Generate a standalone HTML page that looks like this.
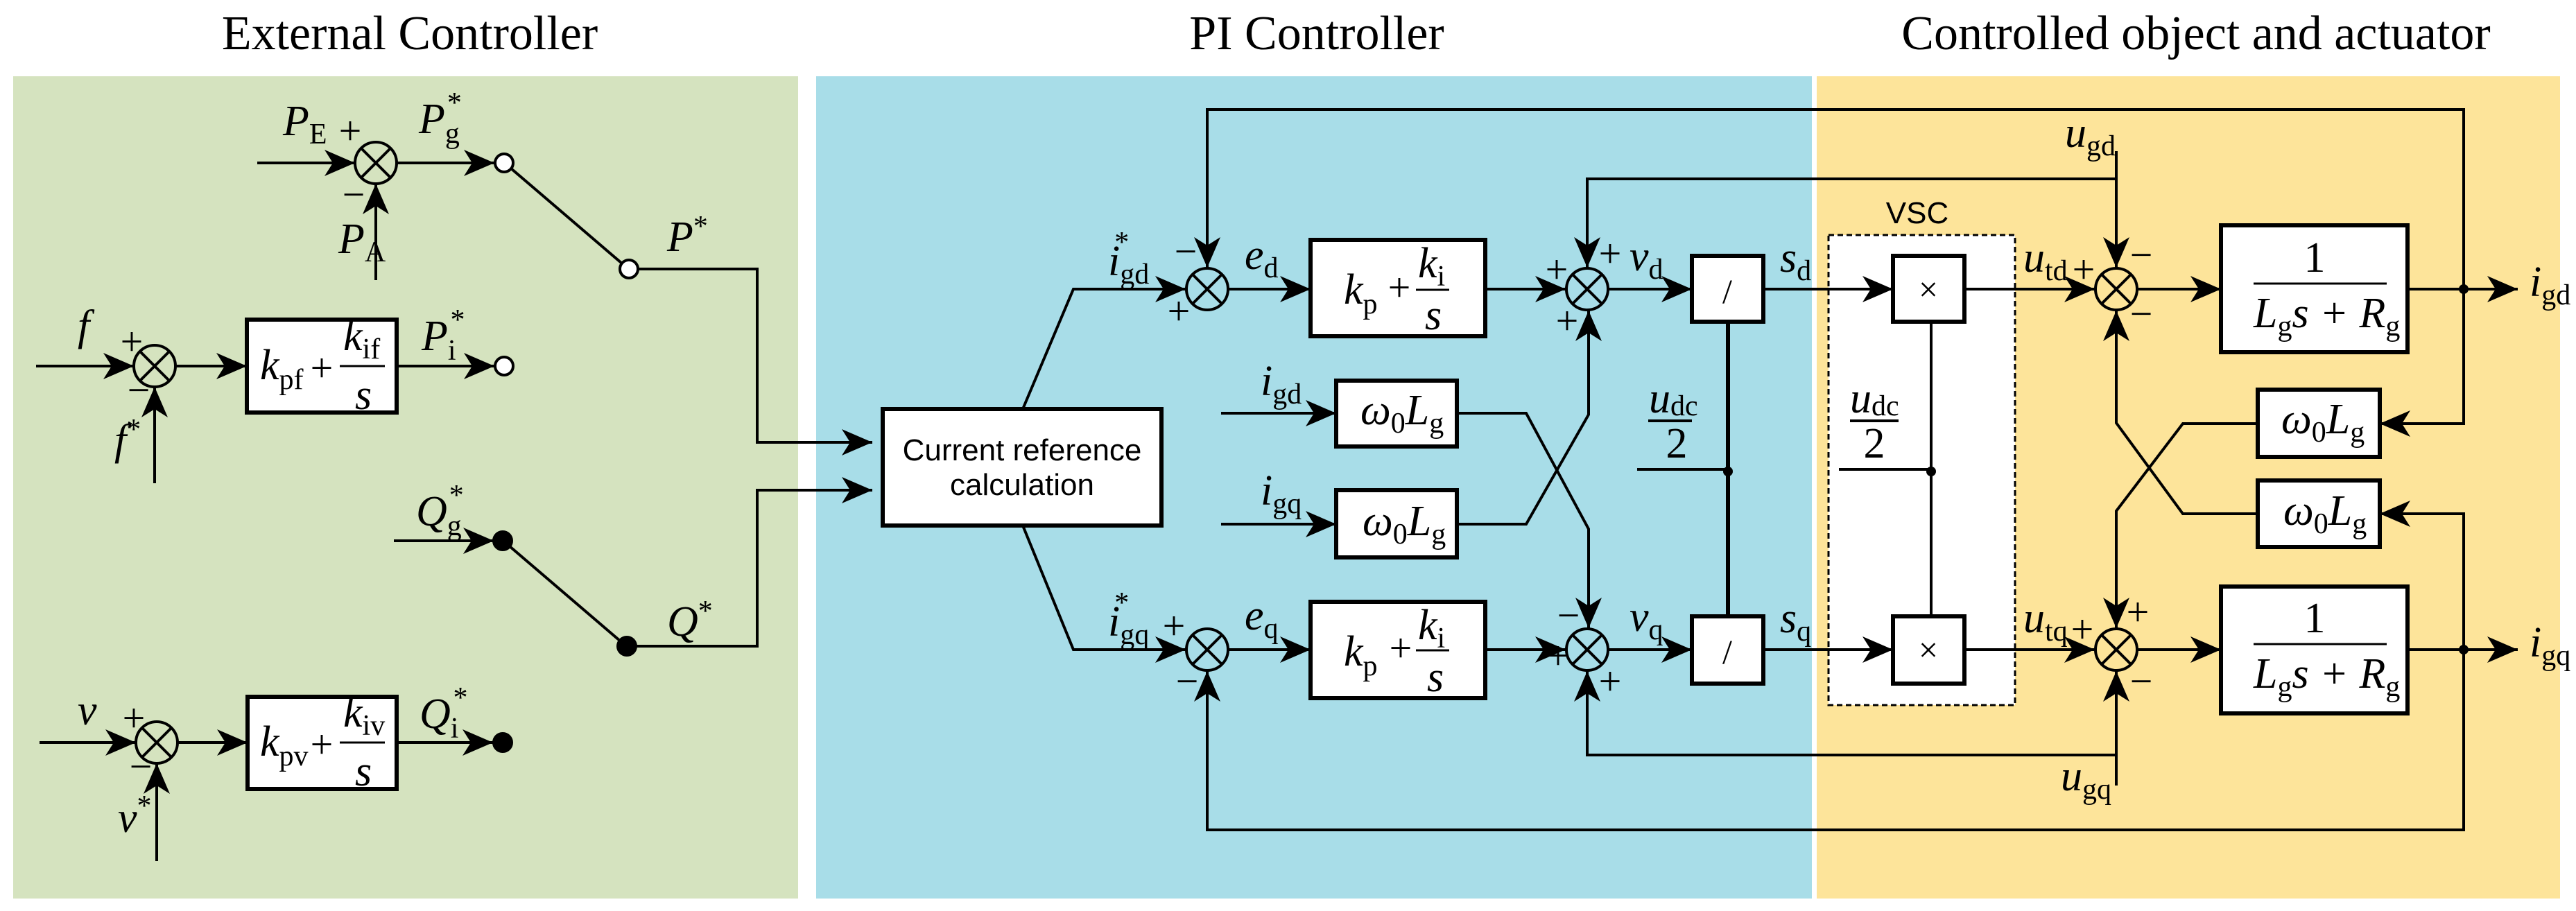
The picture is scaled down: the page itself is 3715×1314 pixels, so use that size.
<!DOCTYPE html>
<html><head><meta charset="utf-8"><style>
html,body{margin:0;padding:0;background:#fff}
svg{display:block}
.t{font-family:"Liberation Serif",serif;font-size:70px}
.m{font-family:"Liberation Serif",serif;font-style:italic;font-size:62px}
.s{font-style:normal;font-size:42px}
.g{font-family:"Liberation Serif",serif;font-size:58px}
.a{font-family:"Liberation Sans",sans-serif;font-size:44px}
</style></head><body>
<svg width="3715" height="1314" viewBox="0 0 3715 1314" xmlns="http://www.w3.org/2000/svg">
<defs>
<marker id="ar" markerUnits="userSpaceOnUse" markerWidth="48" markerHeight="42" viewBox="-46 -21 48 42" refX="0" refY="0" orient="auto">
<path d="M0,0 L-44,-19 L-32,0 L-44,19 Z" fill="#000"/>
</marker>
<g id="sum"><circle r="30" fill="none" stroke="#000" stroke-width="4"/><path d="M-21,-21L21,21M-21,21L21,-21" stroke="#000" stroke-width="4"/></g>
</defs>
<rect x="19" y="110" width="1132" height="1186" fill="#d5e3bf"/>
<rect x="1177" y="110" width="1436" height="1186" fill="#a8dde8"/>
<rect x="2620" y="110" width="1072" height="1186" fill="#fde49a"/>
<text class="t" x="591" y="71" text-anchor="middle">External Controller</text>
<text class="t" x="1899" y="71" text-anchor="middle">PI Controller</text>
<text class="t" x="3167" y="71" text-anchor="middle">Controlled object and actuator</text>

<g stroke="#000" stroke-width="4" fill="none">
<path d="M371,235H512" marker-end="url(#ar)"/>
<path d="M542,404V265" marker-end="url(#ar)"/>
<path d="M572,235H713" marker-end="url(#ar)"/>
<path d="M737,243L897,380"/>
<path d="M920,388H1092V638H1258" marker-end="url(#ar)"/>
<path d="M52,528H193" marker-end="url(#ar)"/>
<path d="M223,697V558" marker-end="url(#ar)"/>
<path d="M253,528H356" marker-end="url(#ar)"/>
<path d="M572,528H713" marker-end="url(#ar)"/>
<path d="M568,780H712" marker-end="url(#ar)"/>
<path d="M735,788L895,925"/>
<path d="M904,932H1092V707H1258" marker-end="url(#ar)"/>
<path d="M57,1071H196" marker-end="url(#ar)"/>
<path d="M226,1242V1101" marker-end="url(#ar)"/>
<path d="M256,1071H357" marker-end="url(#ar)"/>
<path d="M572,1071H711" marker-end="url(#ar)"/>
<path d="M1475,590L1548,417H1710" marker-end="url(#ar)"/>
<path d="M1475,758L1548,937H1710" marker-end="url(#ar)"/>
<path d="M3553,417V158H1741V386" marker-end="url(#ar)"/>
<path d="M3553,937V1197H1741V968" marker-end="url(#ar)"/>
<path d="M1772,417H1890" marker-end="url(#ar)"/>
<path d="M1772,937H1890" marker-end="url(#ar)"/>
<path d="M2142,417H2258" marker-end="url(#ar)"/>
<path d="M2142,937H2258" marker-end="url(#ar)"/>
<path d="M3052,258H2289V386" marker-end="url(#ar)"/>
<path d="M3052,1089H2289V968" marker-end="url(#ar)"/>
<path d="M1761,596H1927" marker-end="url(#ar)"/>
<path d="M1761,756H1927" marker-end="url(#ar)"/>
<path d="M2101,596H2201L2291,763V906" marker-end="url(#ar)"/>
<path d="M2101,756H2201L2291,598V448" marker-end="url(#ar)"/>
<path d="M2320,417H2440" marker-end="url(#ar)"/>
<path d="M2320,937H2440" marker-end="url(#ar)"/>
<path d="M2492,464V889" stroke-width="6"/>
<path d="M2361,677H2492"/>
<path d="M2377,607H2440"/>
<path d="M2543,417H2730" marker-end="url(#ar)"/>
<path d="M2543,937H2730" marker-end="url(#ar)"/>
<path d="M2833,417H3021" marker-end="url(#ar)"/>
<path d="M2833,937H3021" marker-end="url(#ar)"/>
<path d="M3052,218V386" marker-end="url(#ar)"/>
<path d="M3052,1133V968" marker-end="url(#ar)"/>
<path d="M3083,417H3203" marker-end="url(#ar)"/>
<path d="M3083,937H3203" marker-end="url(#ar)"/>
<path d="M3472,417H3631" marker-end="url(#ar)"/>
<path d="M3472,937H3631" marker-end="url(#ar)"/>
<path d="M3553,417V611H3432" marker-end="url(#ar)"/>
<path d="M3553,937V741H3432" marker-end="url(#ar)"/>
<path d="M3256,611H3148L3052,737V906" marker-end="url(#ar)"/>
<path d="M3256,741H3148L3052,610V448" marker-end="url(#ar)"/>
</g>
<rect x="2637" y="339" width="269" height="678" fill="#fff" stroke="#000" stroke-width="3" stroke-dasharray="8,5"/>
<g stroke="#000" stroke-width="4" fill="none">
<path d="M2785,464V889"/><path d="M2652,677H2785"/><path d="M2668,607H2738"/>
<path d="M2637,417H2730" marker-end="url(#ar)"/><path d="M2637,937H2730" marker-end="url(#ar)"/>
<path d="M2833,417H2906M2833,937H2906"/>
</g>
<g fill="#fff" stroke="#000" stroke-width="6">
<rect x="356" y="461" width="216" height="134"/>
<rect x="357" y="1005" width="215" height="133"/>
<rect x="1273" y="590" width="402" height="168"/>
<rect x="1890" y="346" width="252" height="139"/>
<rect x="1890" y="868" width="252" height="139"/>
<rect x="1927" y="549" width="174" height="95"/>
<rect x="1927" y="707" width="174" height="97"/>
<rect x="2440" y="369" width="103" height="95"/>
<rect x="2440" y="889" width="103" height="97"/>
<rect x="2730" y="369" width="103" height="95"/>
<rect x="2730" y="889" width="103" height="97"/>
<rect x="3203" y="325" width="269" height="183"/>
<rect x="3203" y="846" width="269" height="183"/>
<rect x="3256" y="562" width="176" height="97"/>
<rect x="3256" y="693" width="176" height="96"/>
</g>
<path d="M490,528H555M490,1071H555M2042,418H2090M2042,938H2090M3250,409H3442M3250,929H3442" stroke="#000" stroke-width="3"/>
<use href="#sum" x="542" y="235"/><use href="#sum" x="223" y="528"/><use href="#sum" x="226" y="1071"/>
<use href="#sum" x="1741" y="417"/><use href="#sum" x="1741" y="937"/>
<use href="#sum" x="2289" y="417"/><use href="#sum" x="2289" y="937"/>
<use href="#sum" x="3052" y="417"/><use href="#sum" x="3052" y="937"/>
<g stroke="#000" stroke-width="4">
<circle cx="727" cy="235" r="13" fill="#fff"/><circle cx="907" cy="388" r="13" fill="#fff"/><circle cx="727" cy="528" r="13" fill="#fff"/>
<circle cx="725" cy="780" r="13" fill="#000"/><circle cx="904" cy="932" r="13" fill="#000"/><circle cx="725" cy="1071" r="13" fill="#000"/>
</g>
<g fill="#000"><circle cx="2492" cy="680" r="7"/><circle cx="2785" cy="680" r="7"/><circle cx="3553" cy="417" r="7"/><circle cx="3553" cy="937" r="7"/></g>

<g class="m">
<text x="408" y="195">P<tspan class="s" dy="12">E</tspan></text>
<text x="488" y="365">P<tspan class="s" dy="12">A</tspan></text>
<text x="604" y="192">P<tspan class="s" dy="14">g</tspan><tspan class="s" dx="-18" dy="-44">*</tspan></text>
<text x="962" y="362">P<tspan class="s" dy="-22">*</tspan></text>
<text x="112" y="490">f</text>
<text x="165" y="655">f<tspan class="s" dy="-22">*</tspan></text>
<text x="608" y="505">P<tspan class="s" dy="14">i</tspan><tspan class="s" dx="-8" dy="-44">*</tspan></text>
<text x="600" y="758">Q<tspan class="s" dy="14">g</tspan><tspan class="s" dx="-18" dy="-44">*</tspan></text>
<text x="962" y="917">Q<tspan class="s" dy="-22">*</tspan></text>
<text x="112" y="1045">v</text>
<text x="170" y="1200">v<tspan class="s" dy="-24">*</tspan></text>
<text x="605" y="1050">Q<tspan class="s" dy="14">i</tspan><tspan class="s" dx="-8" dy="-44">*</tspan></text>
<text x="375" y="547">k<tspan class="s" dy="14">pf</tspan></text>
<text x="495" y="505">k<tspan class="s" dy="12">if</tspan></text>
<text x="512" y="590">s</text>
<text x="375" y="1090">k<tspan class="s" dy="14">pv</tspan></text>
<text x="495" y="1048">k<tspan class="s" dy="12">iv</tspan></text>
<text x="512" y="1133">s</text>
<text x="1598" y="397">i<tspan class="s" dy="12">gd</tspan><tspan class="s" dx="-50" dy="-46">*</tspan></text>
<text x="1598" y="917">i<tspan class="s" dy="12">gq</tspan><tspan class="s" dx="-50" dy="-46">*</tspan></text>
<text x="1795" y="388">e<tspan class="s" dy="12">d</tspan></text>
<text x="1795" y="908">e<tspan class="s" dy="12">q</tspan></text>
<text x="1938" y="438">k<tspan class="s" dy="14">p</tspan></text>
<text x="2045" y="400">k<tspan class="s" dy="12">i</tspan></text>
<text x="2055" y="475">s</text>
<text x="1938" y="960">k<tspan class="s" dy="14">p</tspan></text>
<text x="2045" y="922">k<tspan class="s" dy="12">i</tspan></text>
<text x="2058" y="997">s</text>
<text x="1818" y="570">i<tspan class="s" dy="12">gd</tspan></text>
<text x="1818" y="728">i<tspan class="s" dy="12">gq</tspan></text>
<text x="1962" y="612">ω<tspan class="s" dy="12">0</tspan><tspan dy="-12">L</tspan><tspan class="s" dy="12">g</tspan></text>
<text x="1965" y="772">ω<tspan class="s" dy="12">0</tspan><tspan dy="-12">L</tspan><tspan class="s" dy="12">g</tspan></text>
<text x="2350" y="390">v<tspan class="s" dy="12">d</tspan></text>
<text x="2350" y="910">v<tspan class="s" dy="12">q</tspan></text>
<text x="2378" y="595">u<tspan class="s" dy="4">dc</tspan></text>
<text x="2567" y="392">s<tspan class="s" dy="12">d</tspan></text>
<text x="2567" y="912">s<tspan class="s" dy="12">q</tspan></text>
<text x="2668" y="595">u<tspan class="s" dy="4">dc</tspan></text>
<text x="2918" y="392">u<tspan class="s" dy="12">td</tspan></text>
<text x="2918" y="912">u<tspan class="s" dy="12">tq</tspan></text>
<text x="2978" y="212">u<tspan class="s" dy="12">gd</tspan></text>
<text x="2972" y="1140">u<tspan class="s" dy="12">gq</tspan></text>
<text x="3250" y="472">L<tspan class="s" dy="12">g</tspan><tspan dy="-12">s + R</tspan><tspan class="s" dy="12">g</tspan></text>
<text x="3250" y="992">L<tspan class="s" dy="12">g</tspan><tspan dy="-12">s + R</tspan><tspan class="s" dy="12">g</tspan></text>
<text x="3290" y="625">ω<tspan class="s" dy="12">0</tspan><tspan dy="-12">L</tspan><tspan class="s" dy="12">g</tspan></text>
<text x="3293" y="757">ω<tspan class="s" dy="12">0</tspan><tspan dy="-12">L</tspan><tspan class="s" dy="12">g</tspan></text>
<text x="3648" y="427">i<tspan class="s" dy="12">gd</tspan></text>
<text x="3648" y="947">i<tspan class="s" dy="12">gq</tspan></text>
</g>
<g class="g" text-anchor="middle">
<text x="505" y="208">+</text><text x="510" y="300">−</text>
<text x="190" y="512">+</text><text x="200" y="582">−</text>
<text x="193" y="1055">+</text><text x="203" y="1125">−</text>
<text x="464" y="550">+</text><text x="464" y="1093">+</text>
<text x="1710" y="382">−</text><text x="1700" y="468">+</text>
<text x="1693" y="922">+</text><text x="1712" y="1002">−</text>
<text x="2018" y="434">+</text><text x="2020" y="954">+</text>
<text x="2245" y="408">+</text><text x="2322" y="385">+</text><text x="2260" y="482">+</text>
<text x="2262" y="907">−</text><text x="2247" y="965">+</text><text x="2322" y="1002">+</text>
<text x="2418" y="660" font-size="62">2</text><text x="2703" y="660" font-size="62">2</text>
<text x="2491" y="437" font-size="50">/</text><text x="2491" y="957" font-size="50">/</text>
<text x="2781" y="434" font-size="50">×</text><text x="2781" y="954" font-size="50">×</text>
<text x="3005" y="408">+</text><text x="3088" y="387">−</text><text x="3088" y="472">−</text>
<text x="3003" y="927">+</text><text x="3083" y="902">+</text><text x="3088" y="1002">−</text>
<text x="3338" y="392" font-size="62">1</text><text x="3338" y="912" font-size="62">1</text>
</g>
<g class="a" text-anchor="middle">
<text x="1474" y="664">Current reference</text>
<text x="1474" y="714">calculation</text>
<text x="2765" y="322">VSC</text>
</g>
</svg>
</body></html>
